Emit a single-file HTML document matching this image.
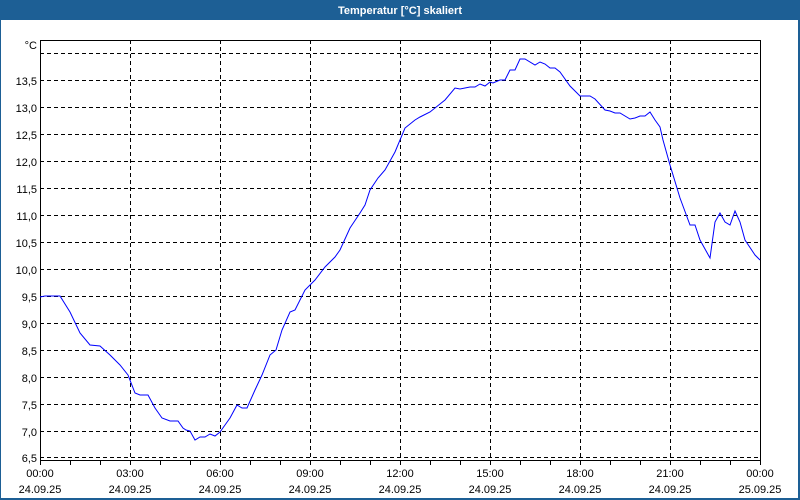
<!DOCTYPE html>
<html><head><meta charset="utf-8"><style>
html,body{margin:0;padding:0;background:#fff;}
svg{display:block;font-family:"Liberation Sans","DejaVu Sans",sans-serif;}
</style></head><body>
<svg width="800" height="500" viewBox="0 0 800 500" xmlns="http://www.w3.org/2000/svg">
<rect x="0" y="0" width="800" height="500" fill="#1d5f95"/>
<rect x="1" y="20" width="797" height="478" fill="#ffffff"/>
<text x="400" y="14" font-size="11" font-weight="bold" fill="#ffffff" text-anchor="middle">Temperatur [°C] skaliert</text>
<g stroke="#000" stroke-width="1" stroke-dasharray="4,3" fill="none">
<line x1="40" y1="53.5" x2="760" y2="53.5"/>
<line x1="40" y1="80.5" x2="760" y2="80.5"/>
<line x1="40" y1="107.5" x2="760" y2="107.5"/>
<line x1="40" y1="134.5" x2="760" y2="134.5"/>
<line x1="40" y1="161.5" x2="760" y2="161.5"/>
<line x1="40" y1="188.5" x2="760" y2="188.5"/>
<line x1="40" y1="215.5" x2="760" y2="215.5"/>
<line x1="40" y1="242.5" x2="760" y2="242.5"/>
<line x1="40" y1="269.5" x2="760" y2="269.5"/>
<line x1="40" y1="296.5" x2="760" y2="296.5"/>
<line x1="40" y1="323.5" x2="760" y2="323.5"/>
<line x1="40" y1="350.5" x2="760" y2="350.5"/>
<line x1="40" y1="377.5" x2="760" y2="377.5"/>
<line x1="40" y1="404.5" x2="760" y2="404.5"/>
<line x1="40" y1="431.5" x2="760" y2="431.5"/>
<line x1="40" y1="457.5" x2="760" y2="457.5"/>
<line x1="130.5" y1="40" x2="130.5" y2="460"/>
<line x1="220.5" y1="40" x2="220.5" y2="460"/>
<line x1="310.5" y1="40" x2="310.5" y2="460"/>
<line x1="400.5" y1="40" x2="400.5" y2="460"/>
<line x1="490.5" y1="40" x2="490.5" y2="460"/>
<line x1="580.5" y1="40" x2="580.5" y2="460"/>
<line x1="670.5" y1="40" x2="670.5" y2="460"/>
</g>
<rect x="40.5" y="40.5" width="720" height="420" fill="none" stroke="#000" stroke-width="1"/>
<g stroke="#000" stroke-width="1">
<line x1="40.5" y1="460" x2="40.5" y2="465"/><line x1="70.5" y1="460" x2="70.5" y2="465"/><line x1="100.5" y1="460" x2="100.5" y2="465"/><line x1="130.5" y1="460" x2="130.5" y2="465"/><line x1="160.5" y1="460" x2="160.5" y2="465"/><line x1="190.5" y1="460" x2="190.5" y2="465"/><line x1="220.5" y1="460" x2="220.5" y2="465"/><line x1="250.5" y1="460" x2="250.5" y2="465"/><line x1="280.5" y1="460" x2="280.5" y2="465"/><line x1="310.5" y1="460" x2="310.5" y2="465"/><line x1="340.5" y1="460" x2="340.5" y2="465"/><line x1="370.5" y1="460" x2="370.5" y2="465"/><line x1="400.5" y1="460" x2="400.5" y2="465"/><line x1="430.5" y1="460" x2="430.5" y2="465"/><line x1="460.5" y1="460" x2="460.5" y2="465"/><line x1="490.5" y1="460" x2="490.5" y2="465"/><line x1="520.5" y1="460" x2="520.5" y2="465"/><line x1="550.5" y1="460" x2="550.5" y2="465"/><line x1="580.5" y1="460" x2="580.5" y2="465"/><line x1="610.5" y1="460" x2="610.5" y2="465"/><line x1="640.5" y1="460" x2="640.5" y2="465"/><line x1="670.5" y1="460" x2="670.5" y2="465"/><line x1="700.5" y1="460" x2="700.5" y2="465"/><line x1="730.5" y1="460" x2="730.5" y2="465"/><line x1="760.5" y1="460" x2="760.5" y2="465"/>
</g>
<g font-size="11" fill="#000" text-anchor="end">
<text x="37" y="49">°C</text>
<text x="37" y="85">13,5</text><text x="37" y="112">13,0</text><text x="37" y="139">12,5</text><text x="37" y="166">12,0</text><text x="37" y="193">11,5</text><text x="37" y="220">11,0</text><text x="37" y="247">10,5</text><text x="37" y="274">10,0</text><text x="37" y="301">9,5</text><text x="37" y="328">9,0</text><text x="37" y="355">8,5</text><text x="37" y="382">8,0</text><text x="37" y="409">7,5</text><text x="37" y="436">7,0</text><text x="37" y="462">6,5</text>
</g>
<g font-size="11" fill="#000" text-anchor="middle">
<text x="40" y="477">00:00</text><text x="40" y="493">24.09.25</text>
<text x="130" y="477">03:00</text><text x="130" y="493">24.09.25</text>
<text x="220" y="477">06:00</text><text x="220" y="493">24.09.25</text>
<text x="310" y="477">09:00</text><text x="310" y="493">24.09.25</text>
<text x="400" y="477">12:00</text><text x="400" y="493">24.09.25</text>
<text x="490" y="477">15:00</text><text x="490" y="493">24.09.25</text>
<text x="580" y="477">18:00</text><text x="580" y="493">24.09.25</text>
<text x="670" y="477">21:00</text><text x="670" y="493">24.09.25</text>
<text x="760" y="477">00:00</text><text x="760" y="493">25.09.25</text>
</g>
<polyline fill="none" stroke="#0000ff" stroke-width="1" points="40,297 45,296 60,296 70,312 80,333 90,345 100,346 110,355 120,365 128,375 135,393 140,395 148,395 155,408 162,418 170,421 178,421 183,428 186,430 190,431 195,440 200,437 205,437 210,434 215,436 220,432 225,425 230,418 237,405 242,408 247,408 255,390 262,375 270,355 276,350 282,330 290,312 295,310 305,290 315,280 325,267 335,257 340,250 350,228 360,213 365,205 370,190 378,178 385,170 395,152 405,128 415,120 420,117 430,112 440,104 445,100 455,88 460,89 470,87 475,87 480,84 485,86 490,82 493,83 500,80 505,80 510,70 515,70 520,59 525,59 535,65 540,62 545,64 550,68 555,68 560,72 570,86 580,96 590,96 595,99 605,110 610,111 615,113 620,113 630,119 635,118 640,116 645,116 650,112 655,120 660,127 663,140 670,165 680,198 690,225 695,225 700,240 710,258 715,222 720,213 725,222 730,225 735,211 740,222 745,240 755,255 760,260"/>
</svg>
</body></html>
